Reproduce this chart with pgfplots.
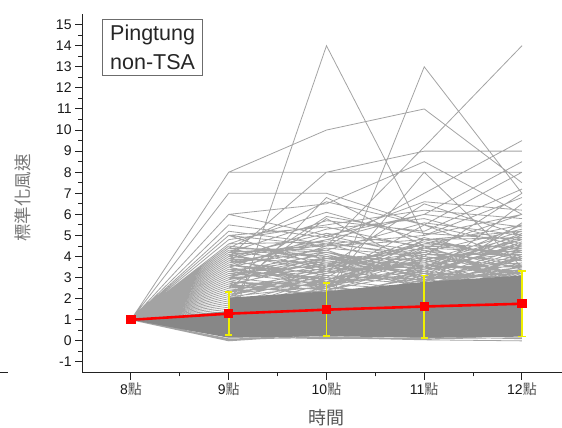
\documentclass[border=0pt]{standalone}
\usepackage{fontspec}
\setmainfont{Liberation Sans}
\newfontfamily\cjk{Noto Sans CJK TC}
\usepackage{pgfplots}
\pgfplotsset{compat=1.18}
\definecolor{linegray}{HTML}{A3A3A3}
\definecolor{bandgray}{HTML}{878787}
\definecolor{ebyellow}{HTML}{F0F000}
\definecolor{axisdark}{HTML}{222222}
\definecolor{labgray}{HTML}{555555}
\newcommand{\dian}{{\cjk\color{labgray}點}}
\begin{document}
\begin{tikzpicture}
\useasboundingbox (0,0) rectangle (562pt,428pt);
\begin{axis}[
  at={(82.1pt,55.5pt)}, anchor=south west,
  scale only axis, width=488.75pt, height=358.4pt,
  xmin=-0.5, xmax=4.5, ymin=-1.5, ymax=15.5,
  axis x line*=bottom, axis y line*=left,
  axis line style={line width=1.2pt, axisdark},
  tick align=outside, major tick length=7pt, minor tick length=4pt,
  every tick/.style={line width=1pt, axisdark},
  xtick={0,1,2,3,4},
  xticklabels={8\dian,9\dian,10\dian,11\dian,12\dian},
  minor x tick num=1,
  ytick={-1,0,...,15}, minor y tick num=1,
  tick label style={font=\fontsize{14}{14}\selectfont, text=black!90},
  /pgf/number format/assume math mode=true,
  xlabel={\cjk 時間},
  xlabel style={font=\fontsize{18}{18}\selectfont, text=labgray, at={(axis description cs:0.5007,-0.127)}, anchor=center},
  ylabel={\cjk 標準化風速},
  ylabel style={font=\fontsize{17.5}{17.5}\selectfont, text=labgray!80, at={(axis description cs:-0.121,0.487)}, anchor=center},
  unbounded coords=jump,
]
% individual stations (gray lines), separated by nan rows
\addplot[linegray, line width=0.8pt, forget plot] table[row sep=\\] {
x y\\
0 1\\1 0.5\\2 14\\3 5\\4 6\\nan nan\\
0 1\\1 2.0\\2 1.4\\3 13\\4 7\\nan nan\\
0 1\\1 3.0\\2 4.5\\3 9.2\\4 14\\nan nan\\
0 1\\1 8\\2 10\\3 11\\4 7.5\\nan nan\\
0 1\\1 8\\2 8\\3 8\\4 8\\nan nan\\
0 1\\1 4.0\\2 8\\3 9\\4 9\\nan nan\\
0 1\\1 7\\2 7\\3 5.5\\4 4.5\\nan nan\\
0 1\\1 6\\2 6.5\\3 8.5\\4 6\\nan nan\\
0 1\\1 5\\2 4.5\\3 7\\4 9.5\\nan nan\\
0 1\\1 3.5\\2 5\\3 6\\4 8.5\\nan nan\\
0 1\\1 6\\2 5\\3 4\\4 7\\nan nan\\
0 1\\1 4.4\\2 6.6\\3 5.5\\4 3.8\\nan nan\\
0 1\\1 5\\2 3.5\\3 6.5\\4 5\\nan nan\\
0 1\\1 4.5\\2 4\\3 3\\4 6.5\\nan nan\\
0 1\\1 2.5\\2 5.8\\3 3.5\\4 5.5\\nan nan\\
0 1\\1 3\\2 2.5\\3 8\\4 3.5\\nan nan\\
0 1\\1 2\\2 6.8\\3 4.5\\4 3.0\\nan nan\\
0 1\\1 1.5\\2 3\\3 5.5\\4 8.0\\nan nan\\
0 1\\1 2.2\\2 2.8\\3 3.1\\4 3.6\\nan nan\\
0 1\\1 2.5\\2 3.3\\3 2.9\\4 4.1\\nan nan\\
0 1\\1 2.8\\2 2.4\\3 3.6\\4 3.3\\nan nan\\
0 1\\1 3.1\\2 3.9\\3 3.2\\4 4.6\\nan nan\\
0 1\\1 3.4\\2 2.9\\3 4.1\\4 3.8\\nan nan\\
0 1\\1 3.7\\2 4.2\\3 3.5\\4 4.9\\nan nan\\
0 1\\1 4.0\\2 3.6\\3 4.4\\4 4.2\\nan nan\\
0 1\\1 4.3\\2 4.0\\3 3.8\\4 5.2\\nan nan\\
0 1\\1 2.3\\2 3.5\\3 4.2\\4 3.1\\nan nan\\
0 1\\1 2.6\\2 2.2\\3 3.0\\4 4.4\\nan nan\\
0 1\\1 2.9\\2 3.7\\3 2.6\\4 3.9\\nan nan\\
0 1\\1 3.2\\2 2.7\\3 3.9\\4 2.8\\nan nan\\
0 1\\1 3.5\\2 4.4\\3 4.0\\4 3.5\\nan nan\\
0 1\\1 3.8\\2 3.1\\3 2.8\\4 4.3\\nan nan\\
0 1\\1 4.1\\2 4.6\\3 3.4\\4 3.7\\nan nan\\
0 1\\1 4.4\\2 3.4\\3 4.7\\4 4.0\\nan nan\\
0 1\\1 2.1\\2 2.6\\3 3.4\\4 4.8\\nan nan\\
0 1\\1 2.4\\2 3.0\\3 2.7\\4 3.4\\nan nan\\
0 1\\1 2.7\\2 3.6\\3 3.3\\4 2.9\\nan nan\\
0 1\\1 3.0\\2 2.5\\3 4.5\\4 4.5\\nan nan\\
0 1\\1 3.3\\2 4.1\\3 3.0\\4 3.2\\nan nan\\
0 1\\1 3.6\\2 3.2\\3 3.7\\4 5.0\\nan nan\\
0 1\\1 3.9\\2 4.8\\3 4.3\\4 3.6\\nan nan\\
0 1\\1 4.2\\2 3.8\\3 3.1\\4 4.7\\nan nan\\
0 1\\1 1.8\\2 2.9\\3 3.8\\4 3.0\\nan nan\\
0 1\\1 2.0\\2 2.3\\3 2.5\\4 3.9\\nan nan\\
0 1\\1 2.6\\2 3.9\\3 3.6\\4 4.2\\nan nan\\
0 1\\1 3.0\\2 3.3\\3 4.9\\4 3.8\\nan nan\\
0 1\\1 3.4\\2 2.8\\3 3.3\\4 4.6\\nan nan\\
0 1\\1 3.8\\2 4.3\\3 2.9\\4 3.3\\nan nan\\
0 1\\1 4.5\\2 3.9\\3 4.2\\4 5.3\\nan nan\\
0 1\\1 4.6\\2 4.7\\3 3.9\\4 4.4\\nan nan\\
0 1\\1 2.2\\2 3.2\\3 4.6\\4 5.5\\nan nan\\
0 1\\1 2.5\\2 2.7\\3 3.2\\4 3.0\\nan nan\\
0 1\\1 2.8\\2 4.0\\3 2.8\\4 4.0\\nan nan\\
0 1\\1 3.1\\2 3.4\\3 3.5\\4 2.7\\nan nan\\
0 1\\1 3.5\\2 2.6\\3 4.4\\4 3.4\\nan nan\\
0 1\\1 3.9\\2 3.7\\3 3.7\\4 4.8\\nan nan\\
0 1\\1 4.2\\2 4.5\\3 4.8\\4 3.9\\nan nan\\
0 1\\1 2.0\\2 3.1\\3 2.9\\4 3.5\\nan nan\\
0 1\\1 2.4\\2 2.5\\3 3.9\\4 4.3\\nan nan\\
0 1\\1 2.9\\2 3.8\\3 3.4\\4 5.1\\nan nan\\
0 1\\1 3.3\\2 3.0\\3 2.7\\4 3.7\\nan nan\\
0 1\\1 3.7\\2 4.6\\3 4.1\\4 4.1\\nan nan\\
0 1\\1 4.1\\2 3.3\\3 3.6\\4 3.2\\nan nan\\
0 1\\1 1.9\\2 2.4\\3 3.3\\4 2.9\\nan nan\\
0 1\\1 2.3\\2 2.9\\3 2.4\\4 3.3\\nan nan\\
0 1\\1 2.7\\2 2.1\\3 3.1\\4 3.6\\nan nan\\
0 1\\1 3.2\\2 3.6\\3 2.5\\4 4.0\\nan nan\\
0 1\\1 3.6\\2 2.9\\3 4.3\\4 3.1\\nan nan\\
0 1\\1 4.4\\2 4.2\\3 3.3\\4 4.5\\nan nan\\
0 1\\1 2.1\\2 3.4\\3 3.7\\4 2.6\\nan nan\\
0 1\\1 2.6\\2 2.8\\3 4.0\\4 3.2\\nan nan\\
0 1\\1 3.0\\2 4.2\\3 3.0\\4 3.9\\nan nan\\
0 1\\1 3.4\\2 3.5\\3 4.6\\4 4.4\\nan nan\\
0 1\\1 3.9\\2 2.7\\3 3.5\\4 3.5\\nan nan\\
0 1\\1 2.5\\2 3.1\\3 2.8\\4 5.6\\nan nan\\
0 1\\1 2.8\\2 2.6\\3 4.8\\4 4.9\\nan nan\\
0 1\\1 3.3\\2 3.9\\3 3.9\\4 2.9\\nan nan\\
0 1\\1 4.0\\2 5.1\\3 4.5\\4 4.2\\nan nan\\
0 1\\1 1.5\\2 2.0\\3 2.6\\4 3.4\\nan nan\\
0 1\\1 1.7\\2 2.5\\3 2.2\\4 2.8\\nan nan\\
0 1\\1 1.2\\2 1.9\\3 2.9\\4 2.5\\nan nan\\
0 1\\1 1.6\\2 2.7\\3 2.4\\4 3.0\\nan nan\\
0 1\\1 1.4\\2 1.8\\3 2.3\\4 3.1\\nan nan\\
0 1\\1 1.9\\2 2.2\\3 3.0\\4 2.7\\nan nan\\
0 1\\1 1.3\\2 2.4\\3 2.1\\4 3.3\\nan nan\\
0 1\\1 1.8\\2 2.1\\3 2.7\\4 3.5\\nan nan\\
0 1\\1 1.1\\2 1.7\\3 2.5\\4 2.9\\nan nan\\
0 1\\1 1.0\\2 2.6\\3 2.0\\4 3.6\\nan nan\\
0 1\\1 0.05\\2 0.2\\3 0.1\\4 0.15\\nan nan\\
0 1\\1 0.1\\2 0.15\\3 0.05\\4 0.0\\nan nan\\
0 1\\1 0.2\\2 0.1\\3 0.15\\4 0.25\\nan nan\\
0 1\\1 0.0\\2 0.3\\3 0.2\\4 0.1\\nan nan\\
0 1\\1 4.8\\2 5.5\\3 6.2\\4 5.8\\nan nan\\
0 1\\1 5.2\\2 4.6\\3 5.0\\4 6.8\\nan nan\\
0 1\\1 4.6\\2 6.1\\3 4.8\\4 5.2\\nan nan\\
0 1\\1 3.9\\2 5.3\\3 5.8\\4 4.6\\nan nan\\
0 1\\1 5.5\\2 4.9\\3 6.6\\4 6.2\\nan nan\\
0 1\\1 4.2\\2 5.7\\3 5.2\\4 7.2\\nan nan\\
0 1\\1 3.6\\2 4.8\\3 6.0\\4 5.4\\nan nan\\
0 1\\1 5.0\\2 5.4\\3 4.4\\4 6.0\\nan nan\\
0 1\\1 2.9\\2 5.9\\3 5.1\\4 4.8\\nan nan\\
0 1\\1 4.4\\2 4.3\\3 5.6\\4 5.0\\nan nan\\
};
% dense core of the overlapping lines
\addplot[fill=bandgray, draw=none, forget plot] table[row sep=\\] {
x y\\
0 1\\1 0.15\\2 0.22\\3 0.15\\4 0.2\\4 3.1\\3 2.8\\2 2.35\\1 2.05\\1 1.4\\
} -- cycle;
% standard deviation bars
\addplot[draw=none, mark=none, forget plot,
  error bars/.cd, y dir=both, y explicit,
  error bar style={draw=ebyellow, line width=1.6pt},
  error mark options={draw=ebyellow, line width=1.6pt, mark size=3.7pt, rotate=90}]
  table[row sep=\\, x=x, y=y, y error=e] {
x y e\\
1 1.29 1.02\\
2 1.48 1.26\\
3 1.63 1.48\\
4 1.76 1.55\\
};
% mean
\addplot[color=red, line width=2.6pt, mark=square*, mark size=4.2pt,
  mark options={solid, fill=red, draw=red, line width=0pt}]
  table[row sep=\\] {
x y\\
0 1.00\\
1 1.29\\
2 1.48\\
3 1.63\\
4 1.76\\
};
\end{axis}
% label box
\draw[color=gray!85!black, line width=0.8pt] (102.7pt,353pt) rectangle (202.3pt,408.7pt);
\node[anchor=base west, inner sep=0pt, font=\fontsize{21.5}{21.5}\selectfont, text=black!85] at (110pt,387.3pt) {Pingtung};
\node[anchor=base west, inner sep=0pt, font=\fontsize{21.5}{21.5}\selectfont, text=black!85] at (110pt,358.8pt) {non-TSA};
% edge of the neighbouring panel
\draw[axisdark, line width=1pt] (0pt,55.5pt) -- (7.5pt,55.5pt);
\end{tikzpicture}
\end{document}
